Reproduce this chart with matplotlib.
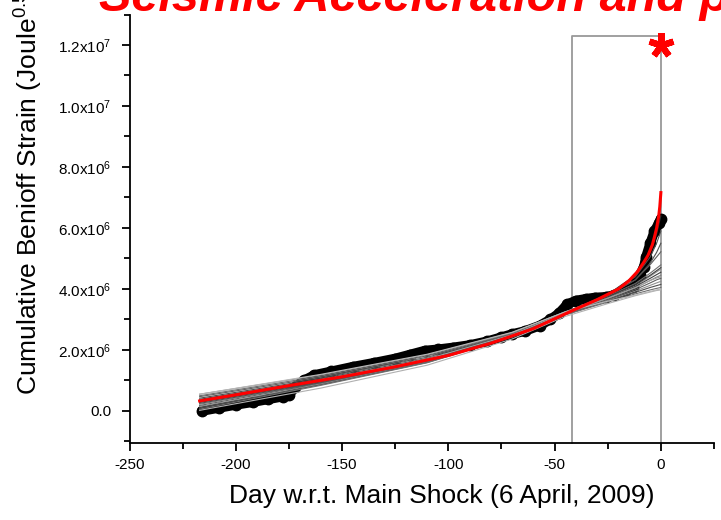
import matplotlib
matplotlib.use("Agg")
import matplotlib.pyplot as plt

plt.rcParams['font.family'] = ['Liberation Sans', 'DejaVu Sans']
plt.rcParams['mathtext.fontset'] = 'custom'
plt.rcParams['mathtext.rm'] = 'Liberation Sans'
plt.rcParams['mathtext.it'] = 'Liberation Sans:italic'
plt.rcParams['mathtext.bf'] = 'Liberation Sans:bold'
plt.rcParams['axes.unicode_minus'] = False

# Observed cumulative Benioff strain (days before main shock, Joule^0.5)
obs_days = [-216, -208, -200, -192, -185, -178, -175, -172, -168, -163, -155, -145,
            -135, -125, -118, -111, -105, -98, -90, -82, -75, -70, -64, -57, -52,
            -48, -44, -40, -35, -31, -26, -22, -17, -13, -10, -8, -7, -5, -3, -1, 0]
obs_vals = [0.00e6, 0.10e6, 0.20e6, 0.29e6, 0.38e6, 0.47e6, 0.52e6, 0.80e6, 1.00e6,
            1.18e6, 1.30e6, 1.45e6, 1.58e6, 1.72e6, 1.85e6, 1.98e6, 2.02e6, 2.08e6,
            2.16e6, 2.28e6, 2.42e6, 2.52e6, 2.62e6, 2.80e6, 3.00e6, 3.20e6, 3.50e6,
            3.62e6, 3.68e6, 3.72e6, 3.74e6, 3.80e6, 3.92e6, 4.08e6, 4.45e6, 4.72e6,
            5.05e6, 5.50e6, 5.90e6, 6.15e6, 6.30e6]

# Best power-law time-to-failure fit
fit_days = [-217, -200, -175, -150, -125, -100, -80, -60, -42, -30, -20, -15, -11,
            -8, -6, -4, -3, -2, -1, -0.5, 0]
fit_vals = [0.33e6, 0.53e6, 0.83e6, 1.12e6, 1.45e6, 1.82e6, 2.22e6, 2.70e6, 3.28e6,
            3.65e6, 4.00e6, 4.27e6, 4.57e6, 4.88e6, 5.11e6, 5.45e6, 5.71e6, 6.00e6,
            6.40e6, 6.70e6, 7.16e6]

# Alternative fits (values in units of 1e6 at common days)
alt_days = [-217, -160, -110, -70, -45, -25, -12, -5, -2, 0]
alt_fits = [
    [0.38, 1.02, 1.68, 2.47, 3.20, 3.82, 4.45, 5.20, 5.80, 6.40],
    [0.42, 1.06, 1.72, 2.50, 3.22, 3.82, 4.40, 5.05, 5.50, 5.90],
    [0.47, 1.10, 1.76, 2.53, 3.24, 3.80, 4.30, 4.80, 5.05, 5.22],
    [0.50, 1.14, 1.80, 2.55, 3.25, 3.76, 4.18, 4.52, 4.68, 4.79],
    [0.55, 1.18, 1.84, 2.57, 3.25, 3.72, 4.10, 4.42, 4.56, 4.65],
    [0.28, 0.95, 1.65, 2.47, 3.20, 3.70, 4.08, 4.35, 4.47, 4.55],
    [0.22, 0.92, 1.63, 2.46, 3.20, 3.68, 4.03, 4.28, 4.39, 4.45],
    [0.18, 0.90, 1.62, 2.45, 3.18, 3.65, 3.98, 4.20, 4.30, 4.35],
    [0.14, 0.88, 1.60, 2.44, 3.17, 3.62, 3.93, 4.12, 4.20, 4.25],
    [0.10, 0.86, 1.59, 2.43, 3.16, 3.60, 3.89, 4.05, 4.11, 4.15],
    [0.06, 0.84, 1.58, 2.42, 3.15, 3.57, 3.84, 3.97, 4.02, 4.05],
    [0.02, 0.75, 1.50, 2.36, 3.10, 3.52, 3.78, 3.90, 3.95, 3.97],
    [0.30, 0.97, 1.68, 2.50, 3.22, 3.74, 4.15, 4.45, 4.60, 4.70],
    [0.25, 0.93, 1.64, 2.46, 3.20, 3.78, 4.30, 4.85, 5.20, 5.50],
    [0.35, 1.00, 1.70, 2.50, 3.22, 3.70, 4.05, 4.28, 4.36, 4.40],
    [0.55, 1.20, 1.86, 2.58, 3.25, 3.60, 3.80, 3.92, 3.97, 4.00],
]
alt_colors = ['#303030', '#505050', '#606060', '#707070', '#909090', '#404040',
              '#808080', '#606060', '#909090', '#505050', '#707070', '#b0b0b0',
              '#404040', '#505050', '#a0a0a0', '#b8b8b8']

# Analysis window and main shock
window_start = -42
window_top = 1.23e7
shock_day = 0
shock_mark = 1.2e7

ytick_vals = [0, 2e6, 4e6, 6e6, 8e6, 1e7, 1.2e7]
ytick_labels = ['0.0', '2.0x10$^6$', '4.0x10$^6$', '6.0x10$^6$', '8.0x10$^6$',
                '1.0x10$^7$', '1.2x10$^7$']
xtick_vals = [-250, -200, -150, -100, -50, 0]

fig = plt.figure(figsize=(7.21, 5.20), dpi=100)
ax = fig.add_axes([129.5 / 721, 77 / 520, 584.5 / 721, 428.5 / 520])

ylo, yhi = -1.05e6, 1.3e7
ax.set_xlim(-250, 25)
ax.set_ylim(ylo, yhi)

ax.plot(obs_days, obs_vals, color='black', lw=7, marker='o', ms=7.5,
        solid_capstyle='round', solid_joinstyle='round', zorder=2)

for vals, c in zip(alt_fits, alt_colors):
    ax.plot(alt_days, [v * 1e6 for v in vals], color=c, lw=0.8, zorder=3)

ax.plot(fit_days, fit_vals, color='red', lw=2.2, zorder=4)

ax.plot([window_start, window_start, shock_day, shock_day],
        [ylo, window_top, window_top, ylo], color='#999999', lw=1.3, zorder=1,
        clip_on=False)

ax.plot([shock_day], [shock_mark], marker=(5, 2, 0), color='red', ms=18,
        mew=4.5, zorder=5, clip_on=False)

for s in ['top', 'right']:
    ax.spines[s].set_visible(False)
for s in ['left', 'bottom']:
    ax.spines[s].set_linewidth(1.3)

ax.set_yticks(ytick_vals)
ax.set_yticklabels(ytick_labels)
ax.set_yticks([-1e6, 1e6, 3e6, 5e6, 7e6, 9e6, 1.1e7, 1.3e7], minor=True)
ax.set_xticks(xtick_vals)
ax.set_xticks([-225, -175, -125, -75, -25, 25], minor=True)
ax.tick_params(which='major', direction='out', length=6, width=1.3, labelsize=11)
ax.tick_params(which='minor', direction='out', length=4, width=1.3)
ax.tick_params(axis='y', which='major', pad=7)
ax.tick_params(axis='x', which='major', pad=5)

fig.text(442 / 721, 1 - 503 / 520, 'Day w.r.t. Main Shock (6 April, 2009)',
         ha='center', va='baseline', fontsize=19)
fig.text(38 / 721, 1 - 395 / 520, 'Cumulative Benioff Strain (Joule$^{0.5}$)',
         rotation=90, rotation_mode='anchor', ha='left', va='baseline', fontsize=19)

fig.text(99 / 721, 1 - 11 / 520, 'Seismic Acceleration and p', color='red',
         style='italic', weight='bold', fontsize=35, ha='left', va='baseline')

fig.savefig('out.png', dpi=100)
